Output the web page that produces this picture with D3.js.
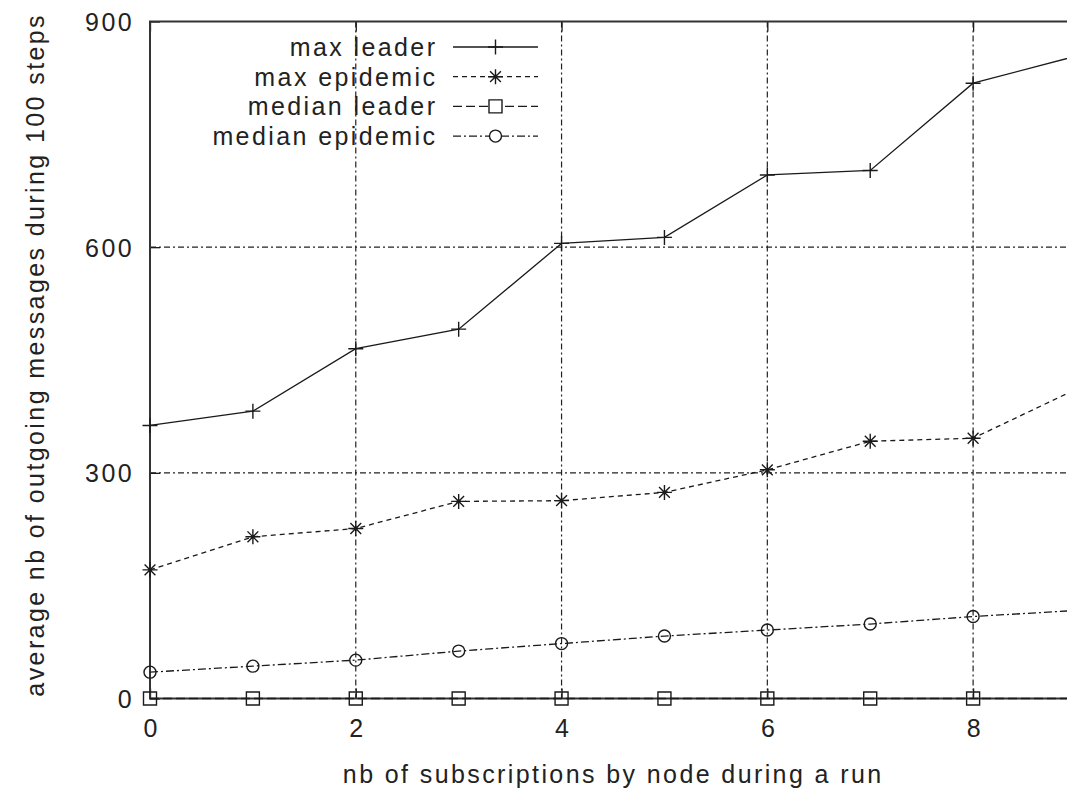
<!DOCTYPE html>
<html>
<head>
<meta charset="utf-8">
<script src="https://cdn.jsdelivr.net/npm/d3@7"></script>
<style>
  html, body { margin: 0; padding: 0; background: #fff; overflow: hidden; }
  svg { display: block; }
  text { font-family: "Liberation Sans", Arial, sans-serif; fill: #222; }
</style>
</head>
<body>
<svg id="chart" width="1067" height="788"></svg>
<script>
// Subscriptions per node (x axis)
const subscriptions = [0, 1, 2, 3, 4, 5, 6, 7, 8, 9];

// Average outgoing messages per series
const maxLeader      = [363, 382, 465, 491, 605, 613, 696, 702, 818, 854];
const maxEpidemic    = [171, 215, 226, 262, 263, 274, 304, 342, 346, 411];
const medianLeader   = [0, 0, 0, 0, 0, 0, 0, 0, 0, 0];
const medianEpidemic = [35, 43, 51, 63, 73, 83, 91, 99, 109, 117];

const seriesNames = ["max leader", "max epidemic", "median leader", "median epidemic"];
const xTicks = [0, 2, 4, 6, 8];
const yTicks = [0, 300, 600, 900];

const xTitle = "nb of subscriptions by node during a run";
const yTitle = "average nb of outgoing messages during 100 steps";

const svg = d3.select("#chart");
const plotLeft = 150, plotRight = 1076, plotTop = 21.5, plotBottom = 698.5;

const x = d3.scaleLinear().domain([0, 9]).range([plotLeft, plotRight]);
const y = d3.scaleLinear().domain([0, 900]).range([plotBottom, plotTop]);

const ink = "#1a1a1a";
const textInk = "#222";
const fontSize = 25;
const spacing = 2.4;

// grid lines (dash-dot)
const grid = svg.append("g").attr("stroke", "#222").attr("stroke-width", 1.2)
  .attr("stroke-dasharray", "6,3,2,3");
grid.selectAll("line.gx").data(xTicks.filter(d => d > 0)).join("line")
  .attr("x1", d => x(d)).attr("x2", d => x(d))
  .attr("y1", plotTop).attr("y2", plotBottom);
grid.selectAll("line.gy").data(yTicks.filter(d => d > 0 && d < 900)).join("line")
  .attr("x1", plotLeft).attr("x2", plotRight)
  .attr("y1", d => y(d)).attr("y2", d => y(d));

// axes with inward ticks
const xAxis = d3.axisBottom(x).tickValues(xTicks).tickSize(-10).tickPadding(21).tickFormat(d3.format("d"));
const yAxis = d3.axisLeft(y).tickValues(yTicks).tickSize(-10).tickPadding(16).tickFormat(d3.format("d"));
const xTop = d3.axisTop(x).tickValues(xTicks).tickSize(-10).tickFormat("");

function styleAxis(g) {
  g.select(".domain").remove();
  g.selectAll(".tick line").attr("stroke", ink).attr("stroke-width", 1.3);
  g.selectAll(".tick text").attr("font-size", fontSize).attr("fill", textInk)
    .style("letter-spacing", spacing + "px")
    .attr("font-family", '"Liberation Sans", Arial, sans-serif');
}
svg.append("g").attr("transform", `translate(0,${plotBottom})`).call(xAxis).call(styleAxis)
  .selectAll(".tick text").attr("dx", spacing / 2);
svg.append("g").attr("transform", `translate(${plotLeft},0)`).call(yAxis).call(styleAxis)
  .selectAll(".tick text").attr("dy", "0.36em");
svg.append("g").attr("transform", `translate(0,${plotTop})`).call(xTop).call(styleAxis);

// frame
svg.append("rect")
  .attr("x", plotLeft).attr("y", plotTop)
  .attr("width", plotRight - plotLeft).attr("height", plotBottom - plotTop)
  .attr("fill", "none").attr("stroke", "#333").attr("stroke-width", 2);

// marker shapes
const markers = {
  plus:   s => `M${-s},0H${s}M0,${-s}V${s}`,
  star:   s => { const d = s * 0.72; return `M${-s},0H${s}M0,${-s}V${s}M${-d},${-d}L${d},${d}M${-d},${d}L${d},${-d}`; },
  square: s => `M${-s},${-s}H${s}V${s}H${-s}Z`,
  circle: s => `M${-s},0A${s},${s} 0 1,0 ${s},0A${s},${s} 0 1,0 ${-s},0Z`
};

const series = [
  { name: seriesNames[0], values: maxLeader,      dash: null,        marker: "plus",   size: 7.5 },
  { name: seriesNames[1], values: maxEpidemic,    dash: "5,4",       marker: "star",   size: 7.5 },
  { name: seriesNames[2], values: medianLeader,   dash: "9,4",       marker: "square", size: 6.5 },
  { name: seriesNames[3], values: medianEpidemic, dash: "8,3,2,3",   marker: "circle", size: 6 }
];

const line = d3.line().x((d, i) => x(subscriptions[i])).y(d => y(d));

const plot = svg.append("g");
series.forEach(s => {
  plot.append("path")
    .attr("d", line(s.values))
    .attr("fill", "none").attr("stroke", ink).attr("stroke-width", 1.3)
    .attr("stroke-dasharray", s.dash);
  plot.selectAll(null).data(s.values).join("path")
    .attr("transform", (d, i) => `translate(${x(subscriptions[i])},${y(d)})`)
    .attr("d", markers[s.marker](s.size))
    .attr("fill", "none").attr("stroke", ink).attr("stroke-width", 1.4);
});

// legend
const legend = svg.append("g");
const legendTextX = 435, sampleX1 = 453, sampleX2 = 538, legendY0 = 47, legendStep = 29.7;
series.forEach((s, i) => {
  const ly = legendY0 + i * legendStep;
  legend.append("text")
    .attr("x", legendTextX + spacing).attr("y", ly).attr("dy", "0.36em")
    .attr("text-anchor", "end").attr("font-size", fontSize)
    .style("letter-spacing", spacing + "px")
    .text(s.name);
  legend.append("line")
    .attr("x1", sampleX1).attr("x2", sampleX2).attr("y1", ly).attr("y2", ly)
    .attr("stroke", ink).attr("stroke-width", 1.3).attr("stroke-dasharray", s.dash);
  legend.append("path")
    .attr("transform", `translate(${(sampleX1 + sampleX2) / 2},${ly})`)
    .attr("d", markers[s.marker](s.size))
    .attr("fill", "#fff").attr("stroke", ink).attr("stroke-width", 1.4);
});

// axis titles
svg.append("text")
  .attr("x", 612 + spacing / 2).attr("y", 783)
  .attr("text-anchor", "middle").attr("font-size", fontSize)
  .style("letter-spacing", spacing + "px")
  .text(xTitle);
svg.append("text")
  .attr("transform", `translate(35,${356 - spacing / 2}) rotate(-90)`)
  .attr("dy", "0.36em")
  .attr("text-anchor", "middle").attr("font-size", fontSize)
  .style("letter-spacing", spacing + "px")
  .text(yTitle);
</script>
</body>
</html>
